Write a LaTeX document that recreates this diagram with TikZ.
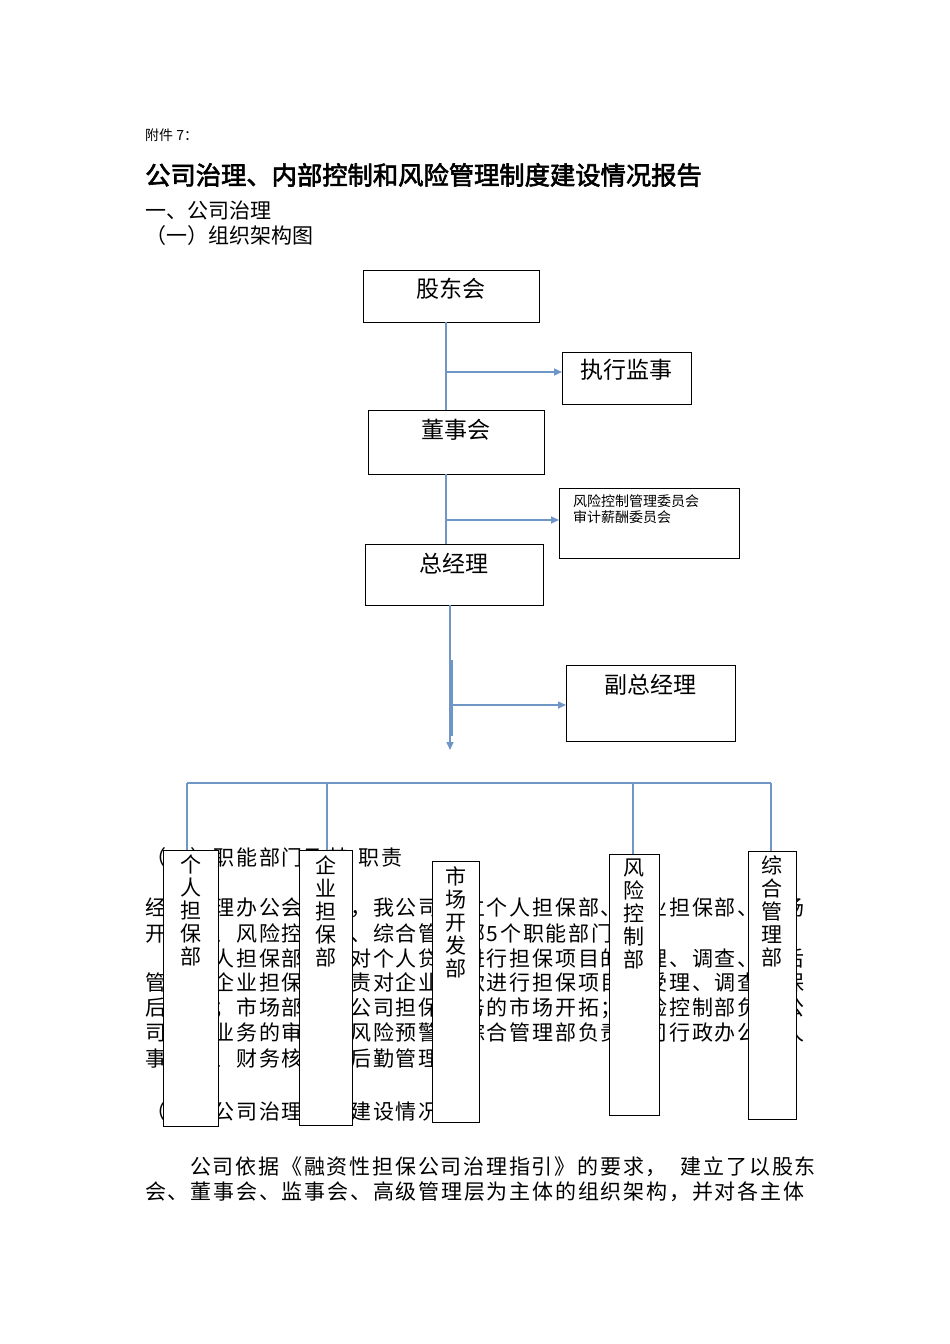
\documentclass[tikz,border=0pt]{standalone}
\usepackage{fontspec}
\usetikzlibrary{arrows.meta}
\setmainfont{Noto Sans CJK SC}
\newfontfamily\cjkls{Noto Sans CJK SC}[LetterSpace=8.5]
\newfontfamily\cjkb{Noto Sans CJK SC}[FakeBold=2.5]
\definecolor{ln}{RGB}{112,150,200}
\tikzset{
  x=1pt,y=-1pt,
  box/.style={draw=black,line width=0.8pt,fill=white,anchor=north west,inner sep=0pt},
  conn/.style={draw=ln,line width=1.6pt},
  arr/.style={conn,-{Triangle[length=8pt,width=7pt]}},
  body/.style={anchor=west,inner sep=0pt,font=\cjkls\fontsize{21}{21}\selectfont},
  vtext/.style={anchor=north,inner sep=0pt,align=center,font=\fontsize{21}{23}\selectfont},
  btext/.style={font=\fontsize{23}{23}\selectfont}
}
\begin{document}
\begin{tikzpicture}
\useasboundingbox (0,0) rectangle (950,1344);
\fill[white] (0,0) rectangle (950,1344);
\node[anchor=west,inner sep=0pt,font=\fontsize{14}{14}\selectfont] (fj) at (145,135) {附件 7：};
\node[anchor=west,inner sep=0pt,font=\cjkb\fontsize{25.3}{25}\selectfont] (title) at (145,175) {公司治理、内部控制和风险管理制度建设情况报告};
\node[anchor=west,inner sep=0pt,font=\fontsize{21}{21}\selectfont] (h1) at (145,211) {一、公司治理};
\node[anchor=west,inner sep=0pt,font=\fontsize{21}{21}\selectfont] (h2) at (145,236) {（一）组织架构图};
% body text lines (behind department boxes)
\node[body] (t0) at (145,858) {（二）职能部门及其\hspace{10pt}职责};
\node[body] (t1) at (145,908) {经总经理办公会研究，我公司设立个人担保部、企业担保部、市场};
\node[body] (t2) at (145,933) {开发部、风险控制部、综合管理部5个职能部门。};
\node[body] (t3) at (190.6,958) {个人担保部负责对个人贷款进行担保项目的受理、调查、保后};
\node[body] (t4) at (145,983) {管理；企业担保部负责对企业贷款进行担保项目的受理、调查、保};
\node[body] (t5) at (145,1008) {后管理；市场部负责公司担保业务的市场开拓；风险控制部负责公};
\node[body] (t6) at (145,1033) {司担保业务的审查、风险预警；综合管理部负责公司行政办公、人};
\node[body] (t7) at (145,1058) {事管理、财务核算、后勤管理。};
\node[body] (t8) at (145,1112) {（三）公司治理制度建设情况};
\node[body] (t9) at (190,1167) {公司依据《融资性担保公司治理指引》的要求，\hspace{14pt}建立了以股东};
\node[body] (t10) at (145,1192) {会、董事会、监事会、高级管理层为主体的组织架构，并对各主体};
% top boxes
\node[box,minimum width=176pt,minimum height=52pt,label={[btext,anchor=north,yshift=-5pt]north:股东会}] (gd) at (363,270) {};
\node[box,minimum width=129pt,minimum height=52pt,label={[btext,anchor=north,yshift=-4pt]north:执行监事}] (js) at (562,352) {};
\node[box,minimum width=176pt,minimum height=64pt,label={[btext,anchor=north,yshift=-6pt]north:董事会}] (ds) at (368,410) {};
\node[box,minimum width=180pt,minimum height=70pt] (wy) at (559,488) {};
\node[anchor=north west,inner sep=0pt,align=left,font=\fontsize{14}{16}\selectfont] (wyt) at (573,494) {风险控制管理委员会\\审计薪酬委员会};
\node[box,minimum width=178pt,minimum height=61pt,label={[btext,anchor=north,yshift=-6pt]north:总经理}] (zj) at (365,544) {};
\node[box,minimum width=169pt,minimum height=76pt,label={[btext,anchor=north,yshift=-6pt]north:副总经理}] (fz) at (566,665) {};
% connectors
\coordinate (a1) at (446,322);
\coordinate (a2) at (446,410);
\coordinate (b1) at (446,372);
\draw[conn] (a1) -- (a2);
\draw[arr] (b1) -- (b1 -| js.west);
\coordinate (c1) at (446,474);
\coordinate (c2) at (446,544);
\coordinate (d1) at (446,520);
\draw[conn] (c1) -- (c2);
\draw[arr] (d1) -- (d1 -| wy.west);
\coordinate (e1) at (450,605);
\coordinate (e2) at (450,750);
\coordinate (e3) at (452,660);
\coordinate (e4) at (452,736);
\coordinate (f1) at (452,705);
\draw[arr] (e1) -- (e2);
\draw[conn] (e3) -- (e4);
\draw[arr] (f1) -- (f1 -| fz.west);
% department boxes
\node[box,minimum width=55pt,minimum height=276pt] (d1b) at (163,850) {};
\node[box,minimum width=53pt,minimum height=275pt] (d2b) at (299,850) {};
\node[box,minimum width=47pt,minimum height=261pt] (d3b) at (432,861) {};
\node[box,minimum width=50pt,minimum height=261pt] (d4b) at (609,854) {};
\node[box,minimum width=48pt,minimum height=268pt] (d5b) at (748,851) {};
\node[vtext] (d1t) at ([yshift=-5pt]d1b.north) {个\\人\\担\\保\\部};
\node[vtext] (d2t) at ([yshift=-5pt]d2b.north) {企\\业\\担\\保\\部};
\node[vtext] (d3t) at ([yshift=-5pt]d3b.north) {市\\场\\开\\发\\部};
\node[vtext] (d4t) at ([yshift=-5pt]d4b.north) {风\\险\\控\\制\\部};
\node[vtext] (d5t) at ([yshift=-5pt]d5b.north) {综\\合\\管\\理\\部};
\coordinate (h0) at (187,783);
\coordinate (h9) at (771,783);
\draw[conn] (h0) -- (h9);
\draw[conn] (h0) -- (h0 |- d1b.north);
\draw[conn] (327,783) -- (327,850);
\draw[conn] (633,783) -- (633,854);
\draw[conn] (h9) -- (h9 |- d5b.north);
\end{tikzpicture}
\end{document}
